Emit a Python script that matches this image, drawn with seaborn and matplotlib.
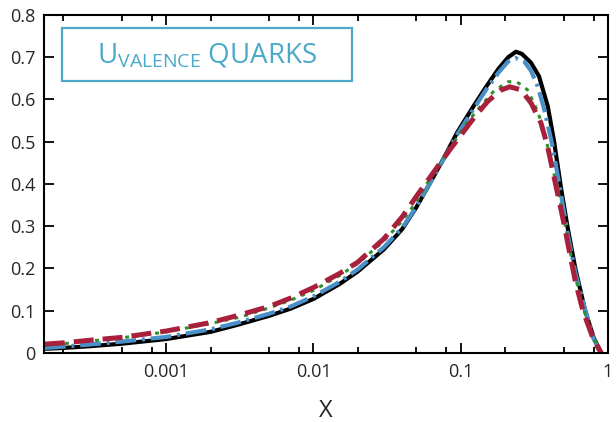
import numpy as np
import pandas as pd
import seaborn as sns
import matplotlib.pyplot as plt
from matplotlib.patches import Rectangle
from matplotlib.ticker import FixedLocator, FixedFormatter, NullFormatter

# valores (x, xu_v)
x_negro = [1.5e-4, 2e-4, 3e-4, 5e-4, 1e-3, 2e-3, 3e-3, 5e-3, 7e-3, 0.01, 0.015, 0.02,
           0.03, 0.04, 0.05, 0.0625, 0.077, 0.095, 0.1226, 0.15, 0.18, 0.21, 0.237, 0.26,
           0.3, 0.34, 0.39, 0.43, 0.48, 0.53, 0.6, 0.7, 0.8, 0.9]
y_negro = [0.010, 0.012, 0.016, 0.022, 0.033, 0.050, 0.066, 0.088, 0.105, 0.128, 0.163, 0.193,
           0.245, 0.293, 0.345, 0.405, 0.462, 0.523, 0.585, 0.632, 0.672, 0.700, 0.713, 0.708,
           0.687, 0.655, 0.584, 0.502, 0.390, 0.300, 0.200, 0.100, 0.036, 0.0]

x_azul = [1.5e-4, 2e-4, 3e-4, 5e-4, 1e-3, 2e-3, 3e-3, 5e-3, 7e-3, 0.01, 0.015, 0.02,
          0.03, 0.04, 0.05, 0.0625, 0.077, 0.095, 0.1226, 0.15, 0.18, 0.21, 0.237, 0.27,
          0.3, 0.333, 0.37, 0.42, 0.48, 0.53, 0.6, 0.68, 0.8, 0.9]
y_azul = [0.012, 0.015, 0.020, 0.027, 0.038, 0.056, 0.071, 0.093, 0.110, 0.134, 0.168, 0.198,
          0.250, 0.296, 0.346, 0.405, 0.460, 0.518, 0.578, 0.625, 0.663, 0.690, 0.698, 0.690,
          0.668, 0.631, 0.575, 0.490, 0.375, 0.285, 0.190, 0.118, 0.033, 0.0]

x_verde = [1.5e-4, 2e-4, 3e-4, 5e-4, 1e-3, 2e-3, 3.2e-3, 5e-3, 7e-3, 0.01, 0.015, 0.02,
           0.03, 0.04, 0.05, 0.06, 0.08, 0.105, 0.137, 0.168, 0.21, 0.24, 0.284, 0.333,
           0.369, 0.41, 0.46, 0.52, 0.59, 0.68, 0.8, 0.9]
y_verde = [0.018, 0.022, 0.028, 0.036, 0.050, 0.070, 0.085, 0.107, 0.125, 0.148, 0.183, 0.212,
           0.265, 0.312, 0.358, 0.405, 0.470, 0.536, 0.585, 0.620, 0.642, 0.642, 0.623, 0.572,
           0.524, 0.455, 0.379, 0.290, 0.190, 0.105, 0.034, 0.0]

x_rojo = [1.5e-4, 2e-4, 3e-4, 5e-4, 1e-3, 2e-3, 3e-3, 5e-3, 7e-3, 0.01, 0.015, 0.02,
          0.03, 0.04, 0.051, 0.07, 0.086, 0.1, 0.116, 0.13, 0.152, 0.187, 0.215, 0.256,
          0.3, 0.35, 0.389, 0.43, 0.5, 0.54, 0.6, 0.676, 0.8, 0.9]
y_rojo = [0.021, 0.024, 0.030, 0.037, 0.052, 0.072, 0.088, 0.110, 0.130, 0.155, 0.188, 0.215,
          0.270, 0.322, 0.375, 0.442, 0.485, 0.515, 0.545, 0.567, 0.595, 0.622, 0.630, 0.623,
          0.592, 0.545, 0.489, 0.417, 0.310, 0.250, 0.170, 0.100, 0.030, 0.0]

series = [
    ("negro", x_negro, y_negro, "black", 3.0, "-"),
    ("azul", x_azul, y_azul, "#4a90c8", 3.0, (0, (5, 1.4, 0.7, 1.4))),
    ("verde", x_verde, y_verde, "#2f8f2f", 2.2, (0, (1.3, 2.0))),
    ("rojo", x_rojo, y_rojo, "#a8203c", 3.6, (0, (4, 1.8))),
]

sns.set_style("ticks")
plt.rcParams['font.family'] = ['Open Sans', 'DejaVu Sans']
plt.rcParams['mathtext.fontset'] = 'custom'
plt.rcParams['mathtext.rm'] = 'Open Sans'

fig = plt.figure(figsize=(6.16, 4.22), dpi=100)
ax = fig.add_axes([0.0714, 0.1635, 0.9156, 0.801])

for nombre, xs, ys, color, lw, ls in series:
    df = pd.DataFrame({"x": xs, "y": ys})
    sns.lineplot(data=df, x="x", y="y", ax=ax, color=color, linewidth=lw,
                 linestyle=ls, sort=False, estimator=None)

ax.set_xscale("log")
ax.set_xlim(1.48e-4, 1)
ax.set_ylim(0, 0.8)

ax.xaxis.set_major_locator(FixedLocator([1e-4, 1e-3, 1e-2, 1e-1, 1]))
ax.xaxis.set_major_formatter(FixedFormatter(["0.0001", "0.001", "0.01", "0.1", "1"]))
menores = [m * 10.0 ** e for e in range(-4, 0) for m in (2, 5, 8)]
ax.xaxis.set_minor_locator(FixedLocator(menores))
ax.xaxis.set_minor_formatter(NullFormatter())
ax.set_yticks(np.arange(0, 0.81, 0.1))
ax.set_yticklabels(["0"] + [f"{v:.1f}" for v in np.arange(0.1, 0.81, 0.1)])

ax.tick_params(which="both", direction="in", top=True, right=True, labelsize=13,
               width=1.3, color="black")
ax.tick_params(which="major", length=7)
ax.tick_params(which="minor", length=4)
ax.tick_params(axis="x", pad=7)
ax.tick_params(axis="y", pad=6)
for s in ax.spines.values():
    s.set_linewidth(1.5)
    s.set_color("black")

ax.set_xlabel("X", fontsize=17, labelpad=13)
ax.set_ylabel("")

azul_caja = "#4aaac8"
ax.add_patch(Rectangle((0.032, 0.805), 0.514, 0.157, transform=ax.transAxes,
                       fill=False, edgecolor=azul_caja, linewidth=1.6))
ax.text(0.289, 0.88, r"U$_{\mathrm{VALENCE}}$ QUARKS", transform=ax.transAxes,
        ha="center", va="center", fontsize=20, color=azul_caja)

fig.savefig("out.png", dpi=100)
